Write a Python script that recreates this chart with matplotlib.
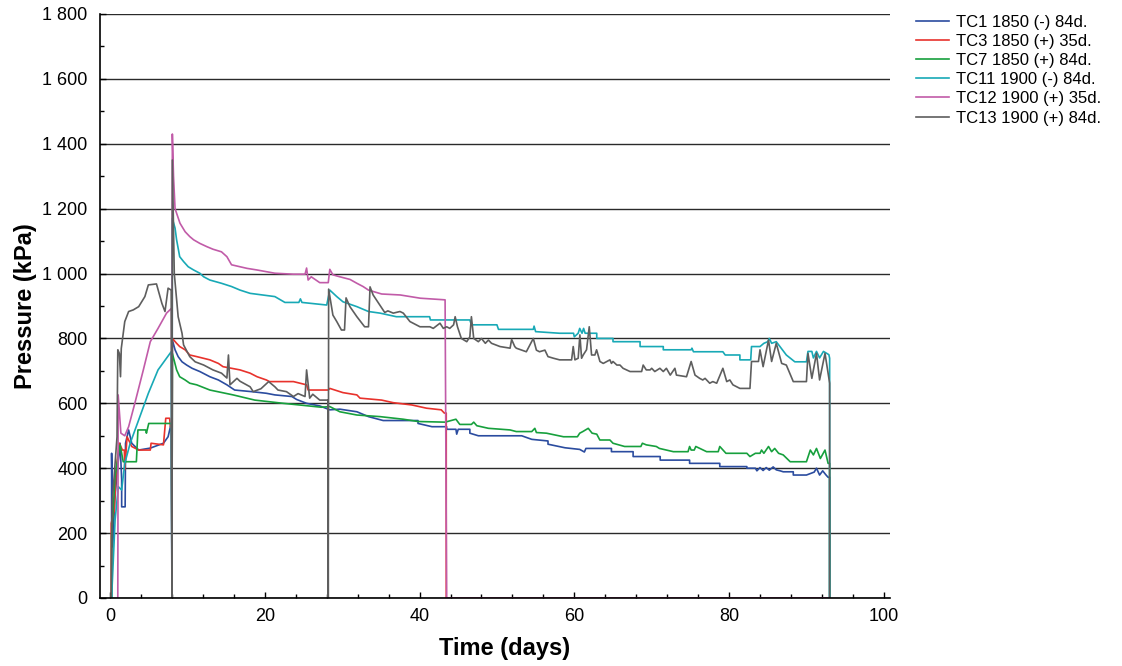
import matplotlib
matplotlib.use("Agg")
import matplotlib.pyplot as plt
from matplotlib.ticker import MultipleLocator, FuncFormatter

plt.rcParams['font.family'] = ['Liberation Sans', 'DejaVu Sans']

# TC1 1850 (-) 84d.
tc1_t = [0.2, 0.2, 0.35, 0.6, 0.86, 1.1, 1.3, 1.5, 1.5, 1.95, 2.0, 2.4, 2.8, 3.7, 5.2, 6.9, 7.5, 7.9,
         8.0, 8.05, 8.4, 8.8, 9.3, 9.9, 10.6, 11.6, 12.9, 14.0, 15.1, 16.1, 18.3, 20.2, 21.3, 23.5,
         24.1, 25.4, 27.1, 28.4, 29.7, 31.9, 33.4, 35.3, 39.8, 39.8, 41.6, 43.5, 43.5, 44.7, 44.8,
         45.0, 46.5, 46.5, 47.6, 53.2, 54.5, 56.6, 56.6, 58.8, 60.7, 61.3, 61.5, 64.8, 64.8, 67.6,
         67.6, 71.1, 71.1, 74.9, 74.9, 78.8, 78.8, 82.3, 82.3, 83.4, 83.6, 84.0, 84.4, 84.8, 85.2,
         85.7, 86.1, 86.6, 87.0, 88.3, 88.3, 90.0, 91.0, 91.3, 91.7, 92.1, 92.5, 92.8, 93.0, 93.0]
tc1_p = [0, 446, 158, 300, 374, 430, 477, 364, 281, 281, 477, 518, 477, 456, 462, 477, 497, 538,
         0, 795, 765, 744, 728, 718, 708, 698, 682, 672, 657, 641, 636, 631, 626, 621,
         612, 600, 592, 580, 582, 574, 559, 547, 547, 538, 528, 528, 520, 520, 505,
         520, 520, 508, 500, 500, 489, 484, 474, 463, 458, 450, 461, 461, 451, 451,
         436, 436, 425, 425, 415, 415, 405, 405, 400, 400, 392, 402, 393, 402, 394,
         404, 395, 392, 389, 389, 379, 379, 388, 400, 379, 392, 380, 372, 372, 0]

# TC3 1850 (+) 35d.
tc3_t = [0.15, 0.15, 0.55, 0.8, 1.2, 1.6, 1.85, 1.9, 2.2, 2.8, 3.7, 5.2, 5.3, 6.9, 7.2, 7.7, 7.8,
         7.95, 8.0, 8.05, 8.6, 9.0, 9.7, 10.3, 11.2, 12.9, 14.0, 14.6, 16.8, 18.1, 19.0, 20.2,
         20.6, 23.7, 25.4, 25.6, 28.2, 28.4, 30.1, 31.9, 32.3, 35.1, 36.6, 39.0, 40.9, 42.8,
         43.2, 43.45, 43.45, 93.0]
tc3_p = [0, 230, 270, 400, 477, 456, 456, 395, 497, 467, 456, 456, 477, 472, 554, 554, 528,
         528, 0, 800, 785, 775, 765, 749, 744, 734, 723, 713, 703, 693, 682, 672,
         667, 667, 657, 641, 641, 646, 633, 626, 616, 610, 602, 595, 585, 580,
         570, 570, 0, 0]

# TC7 1850 (+) 84d.
tc7_t = [0.2, 0.2, 0.65, 1.0, 1.3, 1.7, 3.4, 3.6, 4.6, 4.7, 5.0, 7.95, 8.0, 8.05, 8.6, 9.0, 9.7,
         10.3, 11.2, 12.9, 15.9, 18.7, 22.4, 27.3, 28.4, 29.7, 31.9, 34.9, 37.9, 39.8, 43.3, 44.7,
         45.2, 46.7, 47.0, 47.4, 48.9, 51.7, 52.5, 54.5, 54.9, 55.1, 56.4, 58.6, 60.4, 60.7, 61.1,
         61.8, 62.3, 62.9, 63.3, 64.6, 65.0, 66.5, 68.6, 68.8, 69.3, 70.6, 71.0, 72.8, 74.7, 74.9,
         75.1, 75.5, 75.7, 77.1, 78.6, 78.8, 79.6, 82.3, 82.7, 83.4, 84.0, 84.2, 84.5, 85.1, 85.5,
         85.9, 86.4, 87.0, 87.9, 90.0, 90.5, 90.9, 91.3, 91.8, 92.4, 92.8, 93.0, 93.0]
tc7_p = [0, 189, 374, 430, 472, 420, 420, 518, 518, 508, 538, 538, 0, 754, 703, 682, 672,
         662, 657, 641, 626, 610, 600, 588, 590, 574, 564, 559, 551, 544, 542, 551,
         535, 535, 542, 531, 523, 518, 513, 513, 523, 510, 508, 497, 497, 508, 513,
         523, 508, 505, 487, 487, 477, 467, 467, 477, 472, 467, 461, 451, 451, 467,
         456, 456, 467, 451, 451, 467, 446, 446, 436, 446, 446, 456, 446, 467, 451,
         461, 446, 441, 420, 420, 456, 441, 461, 430, 456, 415, 415, 0]

# TC11 1900 (-) 84d.
tc11_t = [0.2, 0.65, 1.07, 1.5, 1.9, 2.6, 3.7, 4.95, 6.2, 7.9, 8.0, 8.05, 8.4, 8.6, 9.0, 9.5, 10.1,
          10.8, 11.6, 12.1, 12.9, 14.4, 15.7, 16.8, 18.1, 21.3, 22.6, 24.4, 24.6, 24.8, 28.0, 28.4,
          29.3, 30.1, 31.9, 33.4, 34.9, 37.0, 41.3, 41.4, 46.5, 46.7, 50.0, 50.2, 54.7, 54.8, 55.0,
          58.1, 59.9, 60.0, 60.5, 60.7, 61.0, 61.2, 61.4, 62.9, 62.9, 65.0, 65.0, 68.5, 68.5, 71.5,
          71.5, 75.1, 75.2, 75.4, 79.2, 79.5, 81.4, 81.4, 82.8, 82.9, 84.0, 84.5, 85.0, 85.2, 85.5,
          86.1, 87.4, 88.5, 90.0, 90.2, 90.7, 90.9, 91.3, 91.7, 92.2, 92.9, 93.0, 93.0]
tc11_p = [0, 240, 343, 333, 415, 477, 549, 631, 703, 759, 0, 1170, 1140, 1104, 1052, 1037, 1021,
          1011, 1001, 990, 980, 970, 960, 949, 939, 929, 911, 911, 922, 911, 903, 949,
          929, 913, 898, 883, 878, 867, 867, 857, 857, 842, 842, 828, 828, 838, 821,
          816, 816, 805, 816, 831, 816, 831, 816, 816, 800, 800, 790, 790, 775, 775,
          765, 765, 770, 759, 759, 749, 749, 734, 734, 775, 775, 785, 790, 800, 785,
          790, 749, 728, 728, 760, 760, 740, 760, 740, 760, 750, 739, 0]

# TC12 1900 (+) 35d.
tc12_t = [1.0, 1.05, 1.4, 1.9, 2.4, 3.2, 4.3, 5.2, 6.2, 7.3, 7.95, 8.0, 8.05, 8.2, 8.4, 9.04, 9.7,
          10.3, 10.8, 11.6, 12.5, 13.3, 14.4, 15.1, 15.7, 17.7, 19.0, 21.3, 23.7, 25.2, 25.4, 25.6,
          26.0, 27.1, 28.2, 28.4, 28.8, 29.7, 31.0, 31.9, 32.7, 33.4, 35.1, 37.5, 40.1, 43.3, 43.5,
          93.0]
tc12_p = [0, 626, 508, 500, 528, 600, 703, 790, 831, 878, 893, 0, 1430, 1300, 1200, 1155, 1129,
          1114, 1104, 1093, 1083, 1075, 1067, 1052, 1027, 1016, 1011, 1001, 998, 998, 1017, 980,
          990, 972, 972, 1013, 996, 990, 982, 970, 960, 949, 937, 934, 924, 919, 0,
          0]

# TC13 1900 (+) 84d.
tc13_t = [0.15, 0.3, 0.9, 1.0, 1.2, 1.35, 1.45, 1.9, 2.4, 3.0, 3.7, 4.5, 4.95, 6.0, 6.7, 7.1, 7.5,
          7.9, 8.0, 8.05, 8.3, 8.8, 9.3, 9.5, 10.3, 11.0, 12.1, 13.3, 14.4, 15.1, 15.3, 15.5, 16.4,
          16.8, 18.1, 18.5, 19.5, 20.5, 21.3, 21.7, 22.8, 23.7, 24.3, 25.2, 25.4, 25.8, 26.2, 27.1,
          28.15, 28.2, 28.25, 28.8, 29.3, 29.9, 30.3, 30.5, 31.0, 31.9, 32.9, 33.4, 33.6, 34.0,
          35.1, 35.5, 35.9, 36.6, 37.47, 37.9, 38.76, 40.05, 41.34, 41.77, 42.64, 43.07, 43.5,
          43.9, 44.4, 44.6, 44.9, 45.4, 46.1, 46.5, 46.7, 47.0, 47.6, 48.0, 48.5, 48.9, 49.3, 50.4,
          51.7, 51.9, 52.3, 52.5, 53.8, 54.7, 55.1, 55.5, 56.2, 56.6, 57.3, 58.1, 59.65, 59.86,
          60.08, 60.5, 60.72, 60.94, 61.15, 61.58, 61.93, 62.23, 62.66, 62.88, 63.31, 63.74, 64.6,
          64.8, 65.0, 65.5, 65.9, 66.3, 67.2, 68.7, 68.9, 69.3, 69.8, 70.0, 70.4, 71.06, 71.5,
          71.9, 72.4, 73.0, 73.2, 74.5, 75.1, 75.6, 76.2, 76.6, 76.9, 77.5, 77.9, 78.4, 79.2, 79.7,
          80.1, 80.5, 81.4, 82.7, 82.9, 83.8, 84.0, 84.4, 85.1, 85.5, 86.1, 86.8, 87.4, 88.3, 90.0,
          90.2, 90.7, 91.3, 91.7, 92.4, 93.0, 93.0]
tc13_p = [0, 300, 497, 765, 754, 682, 769, 852, 883, 888, 898, 929, 965, 968, 908, 883, 955,
          949, 0, 1350, 1000, 867, 816, 780, 744, 728, 718, 703, 693, 678, 749, 657, 677,
          668, 651, 636, 645, 667, 651, 641, 636, 621, 630, 621, 703, 616, 628, 610,
          610, 0, 952, 872, 852, 826, 826, 925, 898, 867, 836, 836, 959, 934,
          894, 880, 885, 878, 883, 878, 852, 836, 836, 831, 847, 831, 836,
          831, 842, 867, 836, 800, 790, 805, 867, 800, 790, 800, 785, 795, 785, 775,
          770, 797, 775, 770, 759, 800, 764, 759, 764, 744, 739, 734, 734, 775,
          734, 739, 811, 739, 749, 765, 836, 749, 749, 765, 729, 723, 734,
          723, 729, 718, 718, 708, 698, 698, 718, 703, 703, 708, 698, 708, 698,
          708, 687, 708, 687, 682, 729, 687, 677, 672, 677, 662, 667, 662, 708, 667,
          672, 657, 646, 646, 729, 729, 765, 713, 795, 729, 785, 723, 718, 667, 667,
          754, 677, 754, 672, 754, 662, 0]

series = [
    ("TC1 1850 (-) 84d.", tc1_t, tc1_p, "#2b4c9f"),
    ("TC3 1850 (+) 35d.", tc3_t, tc3_p, "#e8322c"),
    ("TC7 1850 (+) 84d.", tc7_t, tc7_p, "#17a03d"),
    ("TC11 1900 (-) 84d.", tc11_t, tc11_p, "#18a9b6"),
    ("TC12 1900 (+) 35d.", tc12_t, tc12_p, "#c15ba8"),
    ("TC13 1900 (+) 84d.", tc13_t, tc13_p, "#5e5e5e"),
]

fig = plt.figure(figsize=(11.22, 6.66), dpi=100)
ax = fig.add_axes([100 / 1122, 68 / 666, 790 / 1122, 584 / 666])

for label, t, p, color in series:
    ax.plot(t, p, color=color, lw=1.2, label=label)

ax.set_xlim(-1.3, 100.8)
ax.set_ylim(0, 1800)
ax.xaxis.set_major_locator(MultipleLocator(20))
ax.xaxis.set_minor_locator(MultipleLocator(4))
ax.yaxis.set_major_locator(MultipleLocator(200))
ax.yaxis.set_minor_locator(MultipleLocator(100))
ax.yaxis.set_major_formatter(FuncFormatter(
    lambda v, pos: f"{int(v):,}".replace(",", " ")))
ax.tick_params(which='both', direction='in', labelsize=13, color='black')
ax.tick_params(which='major', length=4, width=1)
ax.tick_params(which='minor', length=3, width=1)
ax.tick_params(axis='x', pad=7)
ax.tick_params(axis='y', pad=9)

ax.grid(axis='y', which='major', color='#2a2a2a', lw=1.0)
ax.set_axisbelow(True)
for side in ('top', 'right'):
    ax.spines[side].set_visible(False)
for side in ('left', 'bottom'):
    ax.spines[side].set_linewidth(1.2)

ax.set_xlabel("Time (days)", fontsize=17, fontweight='bold')
ax.set_ylabel("Pressure (kPa)", fontsize=17, fontweight='bold')
ax.xaxis.set_label_coords(0.5125, -0.067)
ax.yaxis.set_label_coords(-0.08, 0.5)

fig.legend(loc='upper left', bbox_to_anchor=(909 / 1122, 1 - 8 / 666), frameon=False,
           fontsize=12, handlelength=2.0, handletextpad=0.45, labelspacing=0.25,
           borderaxespad=0)

fig.savefig("out.png", dpi=100)
